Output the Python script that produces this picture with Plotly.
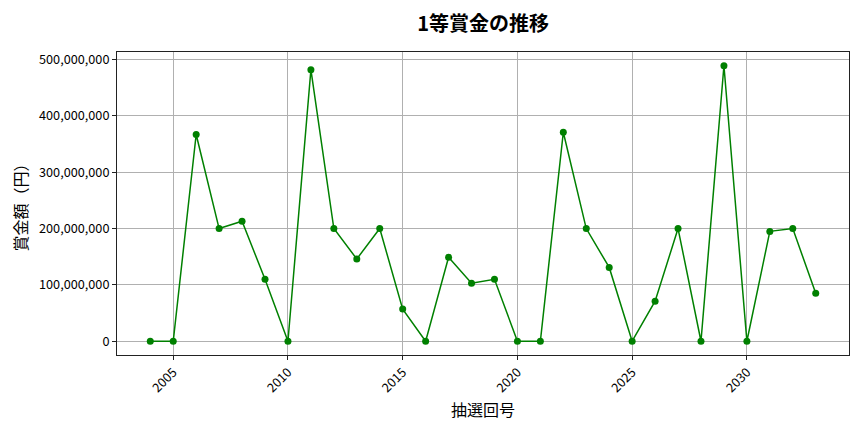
import plotly.graph_objects as go

# 抽選回号 and 1等賞金 (円)
draws = list(range(2004, 2034))
prizes = [
    0, 0, 367_000_000, 200_000_000, 213_000_000, 110_000_000, 0, 482_000_000,
    200_000_000, 146_000_000, 200_000_000, 57_000_000, 0, 149_000_000,
    103_000_000, 110_000_000, 0, 0, 371_000_000, 200_000_000, 131_000_000,
    0, 71_000_000, 200_000_000, 0, 489_000_000, 0, 195_000_000, 200_000_000,
    85_000_000,
]

x_ticks = [2005, 2010, 2015, 2020, 2025, 2030]
y_ticks = [0, 100_000_000, 200_000_000, 300_000_000, 400_000_000, 500_000_000]

FONT = "Noto Sans CJK JP, Noto Sans, DejaVu Sans"

fig = go.Figure(
    go.Scatter(
        x=draws,
        y=prizes,
        mode="lines+markers",
        line=dict(color="green", width=1.5),
        marker=dict(color="green", size=7),
    )
)

span_x = draws[-1] - draws[0]
span_y = max(prizes) - min(prizes)

axis_common = dict(
    showline=True,
    linecolor="#222",
    linewidth=1,
    mirror=True,
    showgrid=True,
    gridcolor="#b0b0b0",
    gridwidth=0.8,
    ticks="outside",
    ticklen=4,
    tickcolor="#222",
    zeroline=False,
    tickfont=dict(family=FONT, size=12.7, color="#000"),
)

# the page body adds ~8px offset, margins compensate for it
fig.update_layout(
    width=864,
    height=432,
    paper_bgcolor="white",
    plot_bgcolor="white",
    margin=dict(l=109, r=23, t=44, b=85),
    showlegend=False,
    title=dict(
        text="<b>1等賞金の推移</b>",
        x=0.55,
        xanchor="center",
        y=0.963,
        yanchor="middle",
        font=dict(family=FONT, size=20, color="#000"),
    ),
    xaxis=dict(
        axis_common,
        range=[draws[0] - 0.05 * span_x, draws[-1] + 0.05 * span_x],
        tickvals=x_ticks,
        tickangle=-45,
        title=dict(text="抽選回号", font=dict(family=FONT, size=16, color="#000"), standoff=9),
    ),
    yaxis=dict(
        axis_common,
        range=[-0.05 * span_y, max(prizes) + 0.05 * span_y],
        tickvals=y_ticks,
        tickformat=",d",
        title=dict(text="賞金額（円）", font=dict(family=FONT, size=16, color="#000"), standoff=9),
    ),
)

fig.write_html("out.html")
